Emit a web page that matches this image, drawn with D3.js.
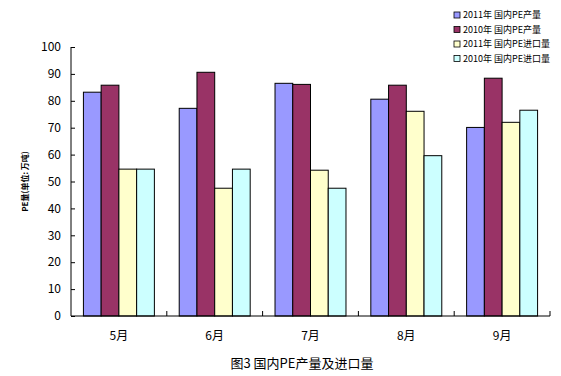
<!DOCTYPE html>
<html>
<head>
<meta charset="utf-8">
<script src="https://cdn.jsdelivr.net/npm/d3@7"></script>
<style>
  body { margin: 0; background: #fff; }
  text { font-family: "Noto Sans CJK SC", "DejaVu Sans", sans-serif; fill: #000; }
</style>
</head>
<body>
<div id="chart"></div>
<script>
// data
const months = ["5月", "6月", "7月", "8月", "9月"];
const seriesNames = ["2011年 国内PE产量", "2010年 国内PE产量", "2011年 国内PE进口量", "2010年 国内PE进口量"];
const prod2011 = [83.2, 77.2, 86.5, 80.6, 70.1];
const prod2010 = [85.8, 90.6, 86.1, 85.8, 88.4];
const imp2011 = [54.6, 47.5, 54.2, 76.1, 72.0];
const imp2010 = [54.6, 54.6, 47.5, 59.6, 76.5];
const yTicks = [0, 10, 20, 30, 40, 50, 60, 70, 80, 90, 100];
const colors = ["#9999ff", "#993366", "#ffffcc", "#ccffff"];

const width = 561, height = 376;
const margin = { left: 71, right: 11, top: 47, bottom: 60 };

const svg = d3.select("#chart").append("svg")
    .attr("width", width)
    .attr("height", height);

const allSeries = [prod2011, prod2010, imp2011, imp2010];

// scales
const x = d3.scaleBand()
    .domain(months)
    .range([margin.left, width - margin.right])
    .paddingInner(0)
    .paddingOuter(0);
const xInner = d3.scaleBand()
    .domain(d3.range(4))
    .range([0, x.bandwidth()])
    .paddingOuter(0.7);
const y = d3.scaleLinear()
    .domain([0, 100])
    .range([height - margin.bottom, margin.top]);

// bars
const groups = svg.append("g")
    .selectAll("g")
    .data(months)
    .join("g")
    .attr("transform", d => `translate(${x(d)},0)`);

groups.selectAll("rect")
    .data((d, i) => allSeries.map((s, k) => ({ k: k, v: s[i] })))
    .join("rect")
    .attr("x", d => xInner(d.k))
    .attr("y", d => y(d.v))
    .attr("width", xInner.bandwidth())
    .attr("height", d => y(0) - y(d.v))
    .attr("fill", d => colors[d.k])
    .attr("stroke", "#000")
    .attr("stroke-width", 1);

// y axis, ticks pointing inward
const yAxis = svg.append("g")
    .attr("transform", `translate(${margin.left},0)`)
    .call(d3.axisRight(y).tickValues(yTicks).tickSize(4).tickFormat(""));
yAxis.select(".domain").attr("d", `M0,${y(0)}V${y(100)}`);
yAxis.selectAll("line").attr("stroke", "#000");
svg.append("g")
    .selectAll("text")
    .data(yTicks)
    .join("text")
    .attr("x", margin.left - 10)
    .attr("y", d => y(d))
    .attr("dy", "0.35em")
    .attr("text-anchor", "end")
    .attr("font-size", 12)
    .text(d => d);

// x axis with ticks between categories
const xAxis = svg.append("g")
    .attr("transform", `translate(0,${y(0)})`);
xAxis.append("line")
    .attr("x1", margin.left).attr("x2", width - margin.right)
    .attr("stroke", "#000");
xAxis.selectAll(".tk")
    .data(months)
    .join("line")
    .attr("class", "tk")
    .attr("x1", d => x(d) + x.bandwidth())
    .attr("x2", d => x(d) + x.bandwidth())
    .attr("y1", 0).attr("y2", -5)
    .attr("stroke", "#000");
xAxis.selectAll(".lbl")
    .data(months)
    .join("text")
    .attr("class", "lbl")
    .attr("x", d => x(d) + x.bandwidth() / 2)
    .attr("y", 24)
    .attr("text-anchor", "middle")
    .attr("font-size", 12)
    .text(d => d);

// y axis title
svg.append("text")
    .attr("transform", `translate(28,${(y(0) + y(100)) / 2}) rotate(-90)`)
    .attr("text-anchor", "middle")
    .attr("font-size", 8)
    .attr("font-weight", "bold")
    .text("PE量(单位: 万吨)");

// chart title
svg.append("text")
    .attr("x", 302)
    .attr("y", 368)
    .attr("text-anchor", "middle")
    .attr("font-size", 13)
    .text("图3 国内PE产量及进口量");

// legend
const legend = svg.append("g")
    .attr("transform", "translate(454,10)");
const item = legend.selectAll("g")
    .data(seriesNames)
    .join("g")
    .attr("transform", (d, i) => `translate(0,${i * 14.5})`);
item.append("rect")
    .attr("width", 6).attr("height", 6)
    .attr("y", 2)
    .attr("fill", (d, i) => colors[i])
    .attr("stroke", "#000")
    .attr("stroke-width", 0.8);
item.append("text")
    .attr("x", 9)
    .attr("y", 5)
    .attr("dy", "0.35em")
    .attr("font-size", 9)
    .text(d => d);
</script>
</body>
</html>
